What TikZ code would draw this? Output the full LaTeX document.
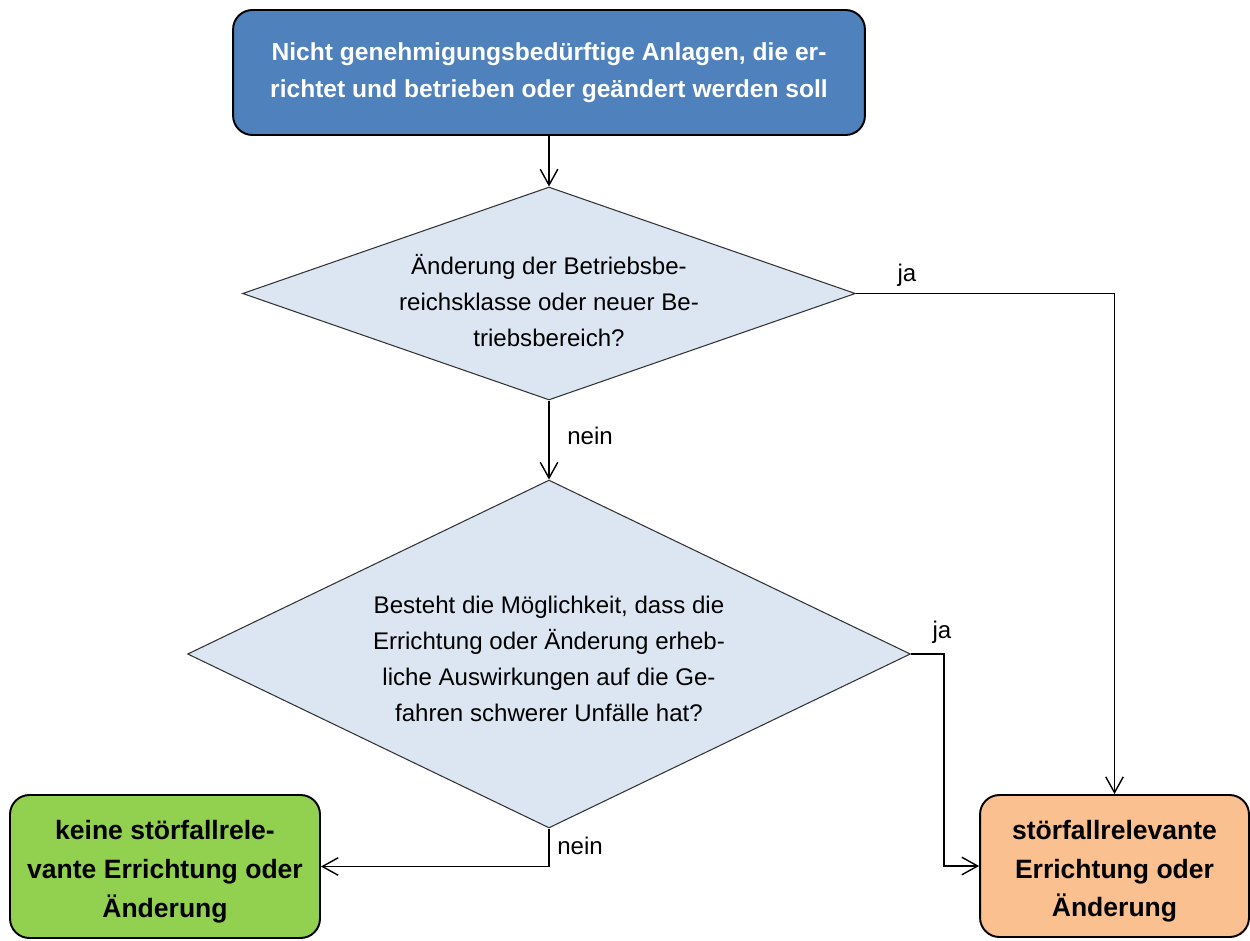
\documentclass[tikz,border=0pt]{standalone}
\usepackage{fontspec}
\setmainfont{Liberation Sans}
\usetikzlibrary{arrows.meta,shapes.geometric}
\definecolor{startblue}{HTML}{4F81BD}
\definecolor{askfill}{HTML}{DCE6F2}
\definecolor{nogreen}{HTML}{92D050}
\definecolor{yesorange}{HTML}{FAC090}
\newcommand{\toppad}[1]{\rule{0pt}{#1}}

\begin{document}
\begin{tikzpicture}[x=0.02cm, y=-0.02cm,
		box/.style={draw=black, line width=1.1pt, rounded corners=11pt, align=center, inner sep=0pt},
		decision/.style={diamond, draw=black!80, line width=0.6pt, fill=askfill, inner sep=0pt, align=center, font=\fontsize{13.7}{20.5}\selectfont},
		flow/.style={line width=0.8pt, -{Straight Barb[length=9pt,width=10pt]}},
		lbl/.style={font=\fontsize{13.7}{15}\selectfont, inner sep=0pt}]
			%%%%% START %%%%%
			
			\useasboundingbox (0, 0) rectangle (1250, 940);
			
			\node[box, fill=startblue, text=white, minimum width=12.64cm, minimum height=2.5cm, font=\bfseries\fontsize{14}{21}\selectfont] (start) at (549, 72.5) {Nicht genehmigungsbedürftige Anlagen, die er-\\richtet und betrieben oder geändert werden soll};
			
			\node[decision, aspect=2.88, minimum width=12.26cm, minimum height=4.26cm] (q1) at (549, 293.5) {\toppad{20pt}Änderung der Betriebsbe-\\reichsklasse oder neuer Be-\\triebsbereich?};
			
			\node[decision, aspect=2.08, minimum width=14.46cm, minimum height=6.96cm] (q2) at (549, 654) {\toppad{16pt}Besteht die Möglichkeit, dass die\\Errichtung oder Änderung erheb-\\liche Auswirkungen auf die Ge-\\fahren schwerer Unfälle hat?};
			
			\node[box, fill=nogreen, minimum width=6.2cm, minimum height=2.86cm, font=\bfseries\fontsize{15.1}{22}\selectfont] (no) at (165, 866.5) {\toppad{17pt}keine störfallrele-\\vante Errichtung oder\\Änderung};
			\node[box, fill=yesorange, minimum width=5.38cm, minimum height=2.84cm, font=\bfseries\fontsize{15.1}{22}\selectfont] (yes) at (1114.5, 866) {\toppad{17pt}störfallrelevante\\Errichtung oder\\Änderung};
			
			\draw[flow] (start) -- (q1);
			\draw[flow] (q1.east) -| (yes.north);
			\node[lbl] (ja1) at (907, 275) {ja};
			
			\draw[flow] (q1) -- (q2);
			\node[lbl] (nein1) at (590, 436) {nein};
			
			\draw[flow] (q2.east) -- ++(33, 0) |- (yes.west);
			\node[lbl] (ja2) at (942, 632) {ja};
			
			\draw[flow] (q2.south) |- (no.east);
			\node[lbl] (nein2) at (580, 846) {nein};
			
			%%%%% END %%%%%
		\end{tikzpicture}
\end{document}
